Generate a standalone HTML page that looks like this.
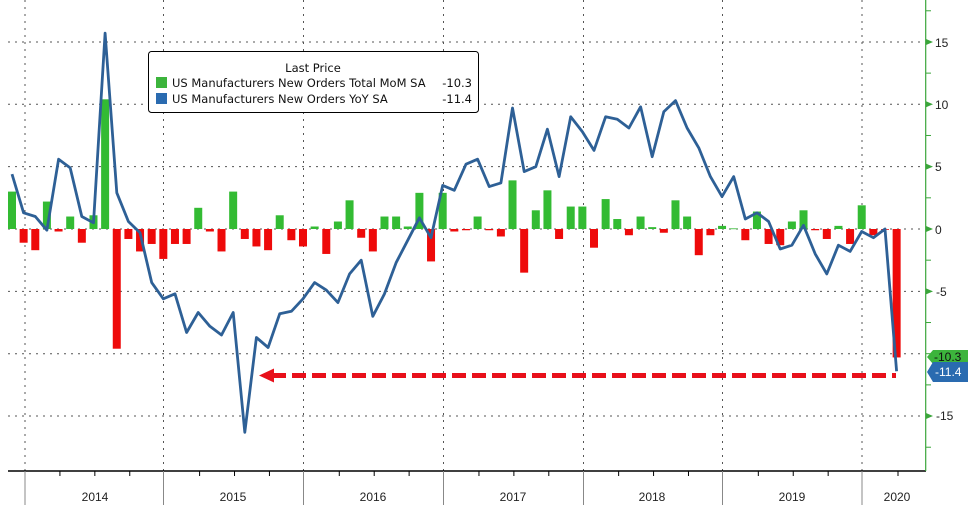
<!DOCTYPE html>
<html><head><meta charset="utf-8"><style>
html,body{margin:0;padding:0;background:#fff;}
svg{display:block;font-family:"Liberation Sans","DejaVu Sans",sans-serif;}
.lg{font-family:"DejaVu Sans","Liberation Sans",sans-serif;font-size:11.5px;fill:#111;}
</style></head><body>
<svg id="c" width="976" height="507" viewBox="0 0 976 507" xmlns="http://www.w3.org/2000/svg">
<defs><filter id="bl" x="-5%" y="-200%" width="110%" height="500%"><feGaussianBlur stdDeviation="1.5"/></filter></defs>
<g id="grid" stroke="#555" stroke-width="1" stroke-dasharray="2,5"></g>
<g id="bars"></g>
<polyline id="line" fill="none" stroke="#2e6096" stroke-width="2.8" stroke-linejoin="round"/>
<line x1="268" y1="379" x2="896" y2="379" stroke="#888" stroke-width="5" stroke-dasharray="14,6" opacity="0.5" filter="url(#bl)"/>
<line x1="272" y1="375.5" x2="896" y2="375.5" stroke="#e8101a" stroke-width="5" stroke-dasharray="14,6"/>
<polygon points="259,375.5 274,368.5 274,382.5" fill="#e8101a"/>
<line x1="8" y1="471" x2="926" y2="471" stroke="#000" stroke-width="1.5"/>
<line x1="925.7" y1="0" x2="925.7" y2="471" stroke="#3aa53a" stroke-width="1.2"/>
<g id="axis"></g>
<g font-size="12" fill="#222">
<text x="935" y="47">15</text><text x="935" y="109">10</text><text x="935" y="171">5</text><text x="935" y="234">0</text>
<text x="936" y="296">-5</text><text x="936" y="420">-15</text>
</g>
<g font-size="12" fill="#222" text-anchor="middle">
<text x="95" y="501">2014</text><text x="233" y="501">2015</text><text x="373" y="501">2016</text><text x="513" y="501">2017</text><text x="652" y="501">2018</text><text x="792" y="501">2019</text><text x="897" y="501">2020</text>
</g>
<polygon points="927,357 933,350 968,350 968,364 933,364" fill="#3cb43c"/>
<text x="934" y="361" font-size="12" fill="#111">-10.3</text>
<polygon points="927,372 933,362 968,362 968,382 933,382" fill="#2a6bb0"/>
<text x="935" y="376" font-size="12" fill="#fff">-11.4</text>
<rect x="148.5" y="51.5" width="330" height="61" rx="3" fill="#fff" stroke="#000" stroke-width="1"/>
<text x="313" y="72" class="lg" text-anchor="middle">Last Price</text>
<rect x="156" y="77" width="11" height="11" fill="#3cb43c"/>
<rect x="156" y="93" width="11" height="11" fill="#2a6bb0"/>
<text x="172" y="87" class="lg">US Manufacturers New Orders Total MoM SA</text>
<text x="472" y="87" class="lg" text-anchor="end">-10.3</text>
<text x="172" y="103" class="lg">US Manufacturers New Orders YoY SA</text>
<text x="472" y="103" class="lg" text-anchor="end">-11.4</text>
</svg>
<script>
var NS="http://www.w3.org/2000/svg";
function el(t,a,p){var e=document.createElementNS(NS,t);for(var k in a)e.setAttribute(k,a[k]);document.getElementById(p).appendChild(e);return e;}
var y0=229,s=12.47;function Y(v){return y0-v*s;}
[15,10,5,0,-5,-10,-15].forEach(function(v){el('line',{x1:8,x2:925,y1:Y(v),y2:Y(v)},'grid');});
var yb=[25,163.5,303.5,443.5,583.5,722.5,862];
yb.forEach(function(x){el('line',{x1:x,x2:x,y1:0,y2:471},'grid');el('line',{x1:x,x2:x,y1:471,y2:505,stroke:'#888','stroke-width':1},'axis');});
for(var i=0;i<26;i++){var x=25+i*34.92;if(x<925&&yb.every(function(b){return Math.abs(b-x)>3}))el('line',{x1:x,x2:x,y1:471,y2:476,stroke:'#000','stroke-width':1},'axis');}
for(var v=-17.5;v<=17.5;v+=2.5){var y=Y(v);el('line',{x1:926,x2:931,y1:y,y2:y,stroke:'#3aa53a','stroke-width':1},'axis');if(v%5==0&&v!=-10)el('polygon',{points:(926)+','+(y-3)+' 933,'+y+' 926,'+(y+3),fill:'#3aa53a'},'axis');}
var bars=[3.0,-1.1,-1.7,2.2,-0.2,1.0,-1.1,1.1,10.4,-9.6,-0.8,-1.8,-1.2,-2.4,-1.2,-1.2,1.7,-0.2,-1.8,3.0,-0.8,-1.4,-1.7,1.1,-0.9,-1.4,0.2,-2.0,0.6,2.3,-0.7,-1.8,1.0,1.0,0.2,2.9,-2.6,2.9,-0.2,-0.1,1.0,-0.1,-0.6,3.9,-3.5,1.5,3.1,-0.8,1.8,1.8,-1.5,2.4,0.8,-0.5,1.0,0.15,-0.3,2.3,1.0,-2.1,-0.5,0.25,0.05,-0.9,1.4,-1.2,-1.3,0.6,1.5,-0.1,-0.8,0.25,-1.2,1.9,-0.5,-0.05,-10.3];
var line=[4.4,1.3,1.0,-0.1,5.6,4.9,1.0,0.5,15.7,2.9,0.6,-0.3,-4.3,-5.6,-5.2,-8.3,-6.7,-7.8,-8.5,-6.7,-16.3,-8.7,-9.5,-6.8,-6.6,-5.6,-4.3,-4.9,-5.9,-3.6,-2.5,-7.0,-5.2,-2.7,-0.9,0.9,-0.7,3.5,3.1,5.2,5.6,3.4,3.7,9.7,4.6,5.0,8.0,4.2,9.0,7.8,6.3,9.0,8.8,8.1,9.8,5.8,9.4,10.3,8.1,6.5,4.2,2.6,4.2,0.8,1.3,0.6,-1.6,-1.3,0.3,-2.0,-3.6,-1.3,-1.8,-0.2,-0.7,0.0,-11.4];
var pts=[];
bars.forEach(function(v,k){var cx=12+k*11.64;var top=Math.min(Y(v),y0),h=Math.max(Math.abs(v)*s,0.8);el('rect',{x:cx-4,y:top,width:8,height:h,fill:v>=0?'#33bb33':'#ee0a0a'},'bars');});
line.forEach(function(v,k){pts.push((12+k*11.64).toFixed(1)+','+Y(v).toFixed(1));});
document.getElementById('line').setAttribute('points',pts.join(' '));
</script>
</body></html>
